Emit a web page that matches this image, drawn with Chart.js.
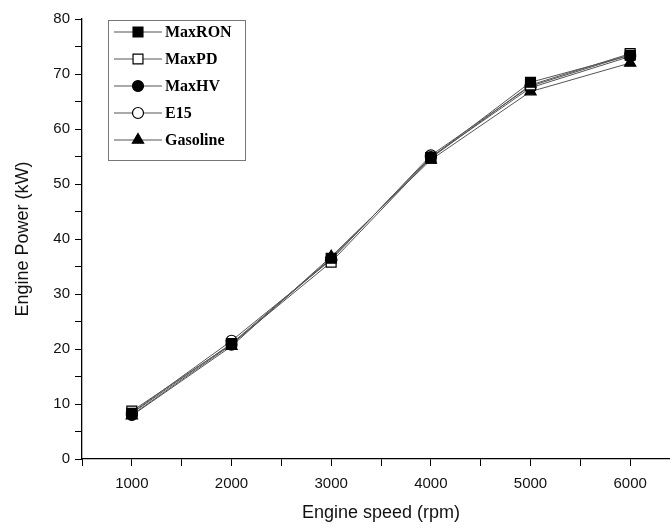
<!DOCTYPE html>
<html>
<head>
<meta charset="utf-8">
<script src="https://cdn.jsdelivr.net/npm/chart.js@4"></script>
<style>
  html, body { margin: 0; padding: 0; background: #fff; overflow: hidden; }
  #wrap { width: 689px; height: 528px; }
</style>
</head>
<body>
<div id="wrap"><canvas id="powerChart"></canvas></div>
<script>
const speeds = [1000, 2000, 3000, 4000, 5000, 6000];
const maxRON = [8.3, 21.0, 36.5, 54.8, 68.5, 73.4];
const maxPD = [8.7, 20.9, 35.8, 54.7, 68.0, 73.7];
const maxHV = [8.0, 20.8, 36.4, 54.9, 67.5, 73.2];
const e15 = [8.4, 21.5, 36.2, 55.2, 67.8, 73.5];
const gasoline = [7.9, 20.5, 36.8, 54.4, 66.8, 72.0];

const seriesNames = ["MaxRON", "MaxPD", "MaxHV", "E15", "Gasoline"];

function pts(vals) {
  return speeds.map((s, i) => ({ x: s, y: vals[i] }));
}

function makeSet(label, vals, style, filled, radius) {
  return {
    label: label,
    data: pts(vals),
    borderColor: "#555",
    borderWidth: 1,
    pointStyle: style,
    pointRadius: radius,
    pointBackgroundColor: filled ? "#000" : "#fff",
    pointBorderColor: "#000",
    pointBorderWidth: 1.2,
    fill: false,
    tension: 0
  };
}

// legend drawn as line + marker + bold serif label
const lineLegend = {
  id: "lineLegend",
  afterDraw(chart) {
    const ctx = chart.ctx;
    const left = 108, top = 20, w = 137, h = 140;
    ctx.save();
    ctx.strokeStyle = "#777";
    ctx.lineWidth = 1;
    ctx.strokeRect(left + 0.5, top + 0.5, w, h);
    chart.data.datasets.forEach((ds, i) => {
      const y = top + 12 + i * 27;
      ctx.strokeStyle = "#555";
      ctx.lineWidth = 1;
      ctx.beginPath();
      ctx.moveTo(left + 6, y);
      ctx.lineTo(left + 54, y);
      ctx.stroke();
      ctx.fillStyle = ds.pointBackgroundColor;
      ctx.strokeStyle = "#000";
      ctx.lineWidth = 1.2;
      Chart.helpers.drawPoint(ctx, { pointStyle: ds.pointStyle, radius: ds.pointRadius, rotation: 0, borderWidth: 1.2 }, left + 30, y);
      ctx.fillStyle = "#000";
      ctx.font = "bold 16px 'Liberation Serif', serif";
      ctx.textBaseline = "middle";
      ctx.fillText(ds.label, left + 57, y + 1);
    });
    ctx.restore();
  }
};

new Chart(document.getElementById("powerChart"), {
  type: "line",
  data: {
    datasets: [
      makeSet(seriesNames[0], maxRON, "rect", true, 7),
      makeSet(seriesNames[1], maxPD, "rect", false, 7),
      makeSet(seriesNames[2], maxHV, "circle", true, 5.5),
      makeSet(seriesNames[3], e15, "circle", false, 5.5),
      makeSet(seriesNames[4], gasoline, "triangle", true, 6.5)
    ]
  },
  plugins: [lineLegend],
  options: {
    responsive: true,
    maintainAspectRatio: false,
    animation: false,
    layout: { padding: { top: 19, right: 0, left: 0, bottom: 0 } },
    plugins: {
      legend: { display: false },
      tooltip: { enabled: false }
    },
    scales: {
      x: {
        type: "linear",
        min: 500,
        max: 6500,
        ticks: {
          stepSize: 500,
          autoSkip: false,
          maxRotation: 0,
          color: "#111",
          font: { family: "'Liberation Sans', Arial", size: 15 },
          padding: 9,
          callback: v => (v % 1000 === 0 && v >= 1000 && v <= 6000) ? v : ""
        },
        grid: { drawOnChartArea: false, color: "#000", tickLength: 7, tickColor: "#000" },
        border: { color: "#000", width: 1.3 },
        title: {
          display: true,
          text: "Engine speed (rpm)",
          color: "#111",
          font: { family: "'Liberation Sans', Arial", size: 18 },
          padding: { top: 6 }
        },
        afterFit: s => { s.height = 69; }
      },
      y: {
        min: 0,
        max: 80,
        ticks: {
          stepSize: 5,
          color: "#111",
          font: { family: "'Liberation Sans', Arial", size: 15 },
          padding: 5,
          callback: v => v % 10 === 0 ? v : ""
        },
        grid: { drawOnChartArea: false, color: "#000", tickLength: 7, tickColor: "#000" },
        border: { color: "#000", width: 1.3 },
        title: {
          display: true,
          text: "Engine Power (kW)",
          color: "#111",
          font: { family: "'Liberation Sans', Arial", size: 18 },
          padding: { top: 12, bottom: 0 }
        },
        afterFit: s => { s.width = 82; }
      }
    }
  }
});
</script>
</body>
</html>
